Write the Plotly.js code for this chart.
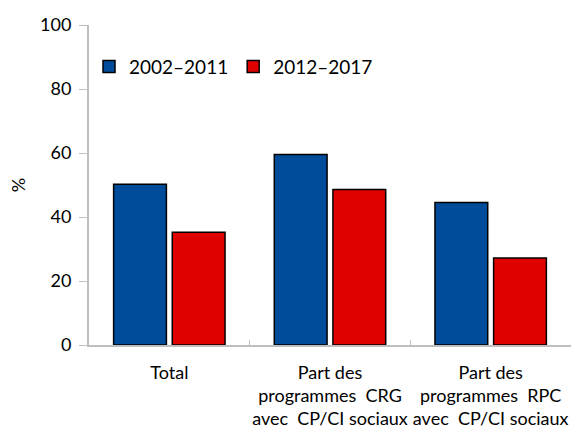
<!DOCTYPE html>
<html><head><meta charset="utf-8">
<script src="https://cdn.plot.ly/plotly-3.0.1.min.js"></script>
<style>html,body{margin:0;padding:0;background:#fff;}#chart{width:571px;height:431px;}</style>
</head><body><div id="chart"></div>
<script>
const categories = ["Total", "Part des<br>programmes  CRG<br>avec  CP/CI sociaux", "Part des<br>programmes  RPC<br>avec  CP/CI sociaux"];
const series1Name = "2002–2011";
const series2Name = "2012–2017";
const series1 = [50.2, 59.5, 44.5];
const series2 = [35.2, 48.6, 27.2];
const yTicks = [0, 20, 40, 60, 80, 100];

const font = "Lato, 'Open Sans', sans-serif";
const traces = [
  {type: "bar", name: series1Name, x: categories, y: series1,
   marker: {color: "#004C9B", line: {color: "#000", width: 1.5}}},
  {type: "bar", name: series2Name, x: categories, y: series2,
   marker: {color: "#E00000", line: {color: "#000", width: 1.5}}}
];
const layout = {
  width: 571, height: 431,
  margin: {l: 89, r: 0, t: 25, b: 86},
  paper_bgcolor: "#fff", plot_bgcolor: "#fff",
  font: {family: font, color: "#000", size: 18},
  barmode: "group", bargap: 0.27, bargroupgap: 0.1,
  showlegend: true,
  legend: {orientation: "h", x: 0.0, y: 0.87, xanchor: "left", yanchor: "middle",
           font: {size: 19, family: font}, itemwidth: 30, tracegroupgap: 0, bgcolor: "rgba(0,0,0,0)"},
  xaxis: {type: "category", showline: true, linecolor: "#BFBFBF", linewidth: 2,
          ticks: "inside", tickson: "boundaries", ticklen: 5, tickcolor: "#BFBFBF",
          tickangle: 0, automargin: false,
          tickfont: {size: 18}, ticklabelstandoff: 10, showgrid: false, zeroline: false},
  yaxis: {range: [0, 100], tickvals: yTicks, ticktext: yTicks.map(String),
          showline: true, linecolor: "#BFBFBF", linewidth: 2, ticks: "outside", ticklen: 8,
          tickcolor: "#BFBFBF", tickfont: {size: 18}, ticklabelstandoff: 4, automargin: false,
          showgrid: false, zeroline: false,
          title: {text: "%", font: {size: 18}, standoff: 10}}
};
Plotly.newPlot("chart", traces, layout, {displayModeBar: false, staticPlot: true});
</script></body></html>
